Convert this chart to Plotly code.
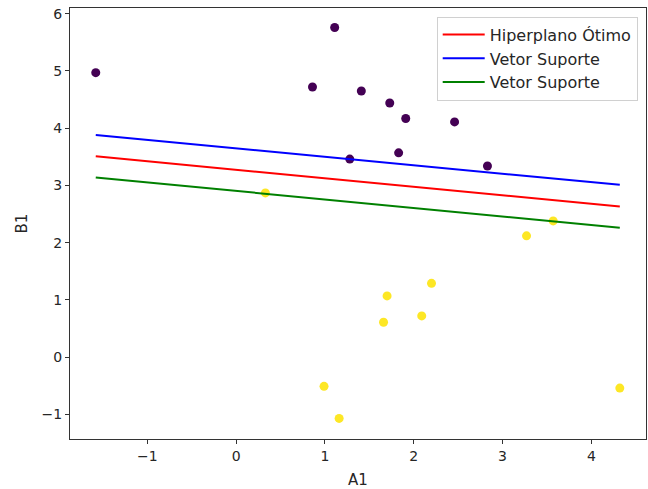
import plotly.graph_objects as go

# Class -1 samples (upper cluster)
neg_a1 = [-1.58, 0.86, 1.11, 1.41, 1.73, 1.91, 2.46, 1.28, 1.83, 2.83]
neg_b1 = [4.97, 4.72, 5.76, 4.65, 4.44, 4.17, 4.11, 3.46, 3.57, 3.34]

# Class +1 samples (lower cluster)
pos_a1 = [0.33, 3.57, 3.27, 2.20, 1.70, 2.09, 1.66, 0.99, 1.16, 4.32]
pos_b1 = [2.87, 2.38, 2.12, 1.29, 1.07, 0.72, 0.61, -0.51, -1.07, -0.54]

# Separating hyperplane and margin lines, evaluated at the ends of the A1 range
line_a1 = [-1.58, 4.32]
hyperplane_b1 = [3.51, 2.63]
support_upper_b1 = [3.88, 3.01]
support_lower_b1 = [3.14, 2.26]

FONT = "DejaVu Sans"
TXT = "#262626"

fig = go.Figure()

fig.add_trace(go.Scatter(x=neg_a1, y=neg_b1, mode="markers", showlegend=False,
                         marker=dict(color="#440154", size=9, line=dict(width=0))))
fig.add_trace(go.Scatter(x=pos_a1, y=pos_b1, mode="markers", showlegend=False,
                         marker=dict(color="#fde725", size=9, line=dict(width=0))))

fig.add_trace(go.Scatter(x=line_a1, y=hyperplane_b1, mode="lines",
                         name="Hiperplano Ótimo", line=dict(color="red", width=2)))
fig.add_trace(go.Scatter(x=line_a1, y=support_upper_b1, mode="lines",
                         name="Vetor Suporte", line=dict(color="blue", width=2)))
fig.add_trace(go.Scatter(x=line_a1, y=support_lower_b1, mode="lines",
                         name="Vetor Suporte", line=dict(color="green", width=2)))

axis_common = dict(
    showline=True, linecolor="#333333", linewidth=1, mirror=True,
    ticks="outside", ticklen=4, tickcolor="#333333", tickwidth=1,
    showgrid=False, zeroline=False,
    tickfont=dict(family=FONT, size=14, color=TXT),
)

fig.update_layout(
    width=648, height=489,
    margin=dict(l=70, r=2, t=8, b=50),
    paper_bgcolor="white", plot_bgcolor="white",
    font=dict(family=FONT, size=14, color=TXT),
    xaxis=dict(range=[-1.87, 4.615], tickvals=[-1, 0, 1, 2, 3, 4],
               title=dict(text="A1", font=dict(family=FONT, size=15, color=TXT), standoff=12),
               **axis_common),
    yaxis=dict(range=[-1.43, 6.1], tickvals=[-1, 0, 1, 2, 3, 4, 5, 6],
               title=dict(text="B1", font=dict(family=FONT, size=15, color=TXT), standoff=10),
               **axis_common),
    legend=dict(
        x=0.9856, y=0.98, xanchor="right", yanchor="top",
        bgcolor="rgba(255,255,255,0.8)", bordercolor="#d0d0d0", borderwidth=1,
        font=dict(family=FONT, size=16, color=TXT),
        itemwidth=42, tracegroupgap=0,
    ),
)

fig.write_html("out.html")
